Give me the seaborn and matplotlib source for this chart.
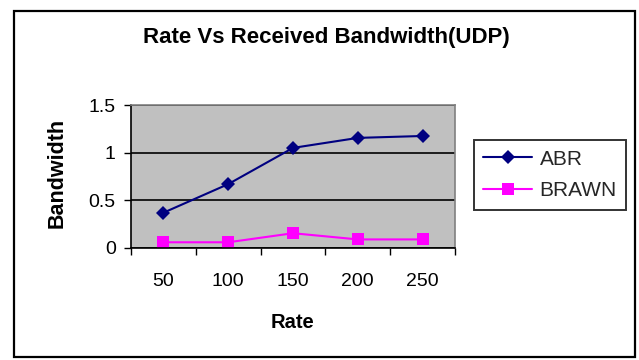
import matplotlib
matplotlib.use("Agg")
import matplotlib.pyplot as plt
from matplotlib.patches import Rectangle
import numpy as np
import pandas as pd
import seaborn as sns

# Data
rates = [50, 100, 150, 200, 250]
abr = [0.37, 0.67, 1.05, 1.155, 1.175]
brawn = [0.06, 0.06, 0.155, 0.09, 0.09]
series_names = ["ABR", "BRAWN"]
y_ticks = [0, 0.5, 1, 1.5]
y_tick_labels = ["0", "0.5", "1", "1.5"]

df = pd.DataFrame({
    "Rate": rates * 2,
    "Bandwidth": abr + brawn,
    "Series": ["ABR"] * len(rates) + ["BRAWN"] * len(rates),
})

sns.set_theme(style="white")
plt.rcParams["font.family"] = ["Liberation Sans", "DejaVu Sans"]

W, H = 639, 360
fig = plt.figure(figsize=(W / 100, H / 100), dpi=100)
fig.patch.set_facecolor("white")

# plot area in pixel coordinates
L, R, T, B = 131, 455, 105, 248
ax = fig.add_axes([L / W, 1 - B / H, (R - L) / W, (B - T) / H])
ax.set_facecolor("#C0C0C0")

palette = {"ABR": "#000080", "BRAWN": "#FF00FF"}
markers = {"ABR": "D", "BRAWN": "s"}
marker_sizes = {"D": 7.5, "s": 8.5}
sns.lineplot(
    data=df, x="Rate", y="Bandwidth", hue="Series", style="Series",
    hue_order=series_names, style_order=series_names,
    palette=palette, markers=markers, dashes=False,
    linewidth=1.5, markersize=8, markeredgewidth=0, ax=ax,
)
for line in ax.lines:
    m = line.get_marker()
    if m in marker_sizes:
        line.set_markersize(marker_sizes[m])

step = rates[1] - rates[0]
ax.set_xlim(rates[0] - step / 2, rates[-1] + step / 2)
ax.set_ylim(0, 1.5)

# category labels at centers, tick marks at category boundaries
ax.set_xticks(rates)
ax.set_xticklabels([str(r) for r in rates])
ax.set_xticks([r - step / 2 for r in rates] + [rates[-1] + step / 2], minor=True)
ax.tick_params(axis="x", which="major", length=0, pad=18, labelsize=14, colors="black")
ax.tick_params(axis="x", which="minor", length=5, width=1, direction="out",
               color="black", bottom=True)
ax.set_yticks(y_ticks)
ax.set_yticklabels(y_tick_labels)
ax.tick_params(axis="y", which="major", length=5, width=1, direction="out",
               color="black", left=True, labelsize=14, pad=6, labelcolor="black")

ax.yaxis.grid(True, color="black", linewidth=1.2)
ax.xaxis.grid(False)
ax.set_axisbelow(True)

for side in ("left", "bottom"):
    ax.spines[side].set_color("black")
    ax.spines[side].set_linewidth(1.2)
for side in ("top", "right"):
    ax.spines[side].set_color("#808080")
    ax.spines[side].set_linewidth(1.2)

ax.set_xlabel("")
ax.set_ylabel("")

fig.text(293 / W, 1 - 322 / H, "Rate", ha="center", va="center",
         fontsize=14.5, fontweight="bold", color="black")
fig.text(57 / W, 1 - 173 / H, "Bandwidth", ha="center", va="center",
         rotation=90, fontsize=15.5, fontweight="bold", color="black")
fig.text(326 / W, 1 - 38 / H, "Rate Vs Received Bandwidth(UDP)", ha="center",
         va="center", fontsize=16, fontweight="bold", color="black")

handles, labels = ax.get_legend_handles_labels()
leg = ax.legend(
    handles, labels, loc="center left",
    bbox_to_anchor=(474 / W, 1 - 175 / H), bbox_transform=fig.transFigure,
    frameon=True, fancybox=False, shadow=False, fontsize=15,
    handlelength=2.35, handletextpad=0.35, borderpad=0.45, labelspacing=0.6,
    borderaxespad=0,
)
leg.get_frame().set_edgecolor("black")
leg.get_frame().set_linewidth(1.4)
leg.get_frame().set_facecolor("white")

# chart border
fig.add_artist(Rectangle((14 / W, 1 - 357 / H), (635 - 14) / W, (357 - 11) / H,
                         transform=fig.transFigure, fill=False,
                         edgecolor="black", linewidth=1.6))

fig.savefig("out.png", dpi=100)
